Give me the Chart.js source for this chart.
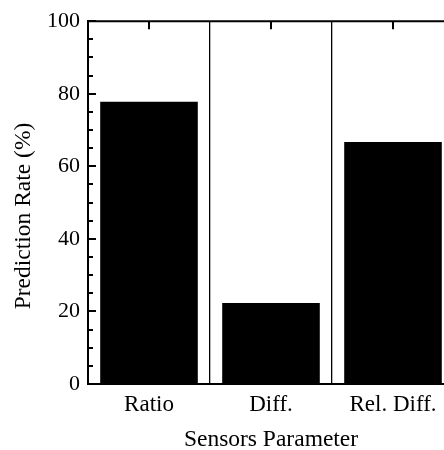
<!DOCTYPE html>
<html>
<head>
<meta charset="utf-8">
<script src="https://cdn.jsdelivr.net/npm/chart.js@4"></script>
<style>
html,body{margin:0;padding:0;background:#fff;overflow:hidden;}
#wrap{width:444px;height:450px;overflow:hidden;position:relative;}
</style>
</head>
<body>
<div id="wrap"><canvas id="c" width="460" height="450"></canvas></div>
<script>
const categories = ['Ratio', 'Diff.', 'Rel. Diff.'];
const predictionRate = [77.8, 22.3, 66.7];
const yMajorTicks = [0, 20, 40, 60, 80, 100];
const yMinorTicks = [5, 10, 15, 25, 30, 35, 45, 50, 55, 65, 70, 75, 85, 90, 95];
const xTitle = 'Sensors Parameter';
const yTitle = 'Prediction Rate (%)';

const FONT = 'Liberation Serif';

const frame = {
  id: 'frame',
  afterDatasetsDraw(chart) {
    const ctx = chart.ctx;
    const a = chart.chartArea;
    const x = chart.scales.x, y = chart.scales.y;
    ctx.save();
    ctx.strokeStyle = '#000';
    // top border
    ctx.lineWidth = 2;
    ctx.beginPath();
    ctx.moveTo(a.left - 1, a.top);
    ctx.lineTo(a.right + 1, a.top);
    ctx.stroke();
    // y ticks (inward)
    ctx.lineWidth = 2;
    ctx.beginPath();
    yMajorTicks.forEach(v => {
      const py = Math.round(y.getPixelForValue(v));
      ctx.moveTo(a.left, py); ctx.lineTo(a.left + 8, py);
    });
    yMinorTicks.forEach(v => {
      const py = Math.round(y.getPixelForValue(v));
      ctx.moveTo(a.left, py); ctx.lineTo(a.left + 5, py);
    });
    // top ticks at category centers
    categories.forEach((c, i) => {
      const px = Math.round(x.getPixelForValue(i));
      ctx.moveTo(px, a.top); ctx.lineTo(px, a.top + 8);
    });
    ctx.stroke();
    // y title
    ctx.fillStyle = '#000';
    ctx.font = '23.5px "' + FONT + '"';
    ctx.textAlign = 'center';
    ctx.textBaseline = 'middle';
    ctx.translate(24, 216);
    ctx.rotate(-Math.PI / 2);
    ctx.fillText(yTitle, 0, 0);
    ctx.restore();
  }
};

new Chart(document.getElementById('c'), {
  type: 'bar',
  data: {
    labels: categories,
    datasets: [{
      data: predictionRate,
      backgroundColor: '#000',
      borderWidth: 0,
      barPercentage: 0.8,
      categoryPercentage: 1.0
    }]
  },
  options: {
    responsive: false,
    animation: false,
    devicePixelRatio: 1,
    layout: { padding: { top: 20, right: 6, left: 0, bottom: 0 } },
    plugins: { legend: { display: false }, tooltip: { enabled: false } },
    scales: {
      x: {
        type: 'category',
        offset: true,
        grid: { offset: true, color: '#000', lineWidth: 1.3, drawTicks: false, drawOnChartArea: true },
        border: { display: true, color: '#000', width: 2 },
        ticks: { color: '#000', font: { family: FONT, size: 23 }, padding: 7, maxRotation: 0, autoSkip: false },
        title: { display: true, text: xTitle, color: '#000', font: { family: FONT, size: 23.5, lineHeight: 0.85 }, padding: { top: 0, bottom: 0 } },
        afterFit(s) { s.height = 66; }
      },
      y: {
        min: 0,
        max: 100,
        grid: { display: true, drawOnChartArea: false, drawTicks: false },
        border: { display: true, color: '#000', width: 2 },
        ticks: { stepSize: 20, color: '#000', font: { family: FONT, size: 22 }, padding: 8 },
        afterFit(s) { s.width = 88; }
      }
    }
  },
  plugins: [frame]
});
</script>
</body>
</html>
